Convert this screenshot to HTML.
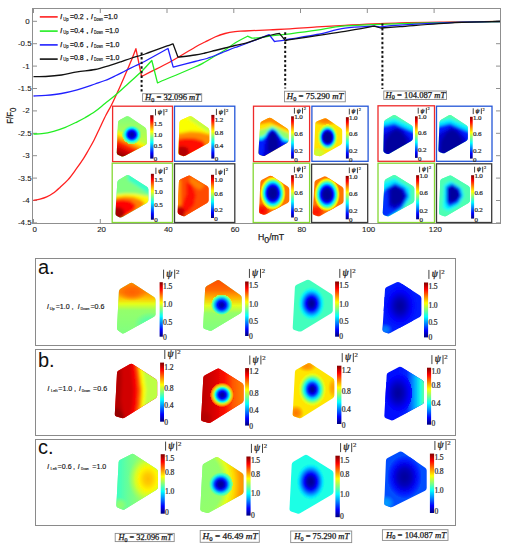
<!DOCTYPE html><html><head><meta charset="utf-8"><style>
html,body{margin:0;padding:0;background:#fff;width:508px;height:550px;overflow:hidden}
svg{display:block}
text{font-family:"Liberation Sans",sans-serif;fill:#111}
.tk{font-size:7.9px;fill:#222;stroke:#222;stroke-width:0.12px}
.al{font-size:9.3px;fill:#222;stroke:#222;stroke-width:0.25px}
.lg{font-size:7.8px;stroke:#111;stroke-width:0.25px}
.lgl{font-size:7.6px;font-style:italic;stroke:#111;stroke-width:0.25px}
.lgs{font-size:4.6px;stroke:#111;stroke-width:0.15px}
.pll{font-size:7.4px;font-style:italic;stroke:#111;stroke-width:0.15px}
.pls{font-size:4.4px;stroke:#111;stroke-width:0.15px}
.plt{font-size:7.4px;stroke:#111;stroke-width:0.15px}
.li{font-family:"Liberation Serif",serif;font-style:italic}
.sub{font-size:6px}
.sub2{font-size:5px}
.pt{font-size:8.2px;letter-spacing:-0.2px}
.pl{font-size:20px}
.cb{font-family:"Liberation Serif",serif;fill:#2a2a2a;stroke:#2a2a2a;stroke-width:0.22px;letter-spacing:-0.15px}
.psi text{font-family:"Liberation Serif",serif;fill:#2a2a2a;stroke:#2a2a2a;stroke-width:0.2px}
.psi rect{fill:#3a3a3a}
.psi .ps{font-size:0.97em;font-style:italic;stroke-width:0.35px}
.hb{font-family:"Liberation Serif",serif;fill:#1a1a1a;stroke:#1a1a1a;stroke-width:0.25px}
</style></head><body><svg width="508" height="550" viewBox="0 0 508 550"><defs><linearGradient id="cbar" x1="0" y1="0" x2="0" y2="1"><stop offset="0.000" stop-color="#800000"/><stop offset="0.062" stop-color="#bf0000"/><stop offset="0.125" stop-color="#ff0000"/><stop offset="0.188" stop-color="#ff4000"/><stop offset="0.250" stop-color="#ff8000"/><stop offset="0.312" stop-color="#ffbf00"/><stop offset="0.375" stop-color="#ffff00"/><stop offset="0.438" stop-color="#bfff40"/><stop offset="0.500" stop-color="#80ff80"/><stop offset="0.562" stop-color="#40ffbf"/><stop offset="0.625" stop-color="#00ffff"/><stop offset="0.688" stop-color="#00bfff"/><stop offset="0.750" stop-color="#0080ff"/><stop offset="0.812" stop-color="#0040ff"/><stop offset="0.875" stop-color="#0000ff"/><stop offset="0.938" stop-color="#0000bf"/><stop offset="1.000" stop-color="#000080"/></linearGradient><filter id="soft" x="-10%" y="-10%" width="120%" height="120%"><feGaussianBlur stdDeviation="0.45"/></filter><linearGradient id="l1" gradientUnits="userSpaceOnUse" x1="0.0" y1="116.0" x2="0.0" y2="140.0"><stop offset="0.000" stop-color="#80ff80" stop-opacity="1.00"/><stop offset="1.000" stop-color="#bdff42" stop-opacity="1.00"/></linearGradient><linearGradient id="l2" gradientUnits="userSpaceOnUse" x1="133.0" y1="136.0" x2="123.0" y2="157.0"><stop offset="0.000" stop-color="#bdff42" stop-opacity="0.00"/><stop offset="0.080" stop-color="#d1ff2e" stop-opacity="1.00"/><stop offset="0.200" stop-color="#fff000" stop-opacity="1.00"/><stop offset="0.350" stop-color="#ff9e00" stop-opacity="1.00"/><stop offset="0.550" stop-color="#ff2400" stop-opacity="1.00"/><stop offset="0.750" stop-color="#d10000" stop-opacity="1.00"/><stop offset="1.000" stop-color="#940000" stop-opacity="1.00"/></linearGradient><radialGradient id="r3" gradientUnits="userSpaceOnUse" cx="0" cy="0" r="1" gradientTransform="translate(131.8 134.6) rotate(0.0) scale(9.50 9.50)"><stop offset="0.000" stop-color="#00009e" stop-opacity="1.00"/><stop offset="0.220" stop-color="#0000bd" stop-opacity="1.00"/><stop offset="0.400" stop-color="#0005ff" stop-opacity="1.00"/><stop offset="0.560" stop-color="#0080ff" stop-opacity="1.00"/><stop offset="0.700" stop-color="#00faff" stop-opacity="1.00"/><stop offset="0.850" stop-color="#61ff9e" stop-opacity="1.00"/><stop offset="1.000" stop-color="#9eff61" stop-opacity="1.00"/><stop offset="1.000" stop-color="#9eff61" stop-opacity="0.00"/></radialGradient><clipPath id="c4"><path d="M118.03,122.50 Q118.10,120.70 119.70,119.88 L126.10,116.62 Q127.70,115.80 129.20,116.80 L144.80,127.20 Q146.30,128.20 146.38,130.00 L146.92,142.30 Q147.00,144.10 145.41,144.94 L124.49,155.96 Q122.90,156.80 121.22,156.15 L118.38,155.05 Q116.70,154.40 116.77,152.60 Z"/></clipPath><filter id="f5" x="-30%" y="-30%" width="160%" height="160%"><feGaussianBlur stdDeviation="1.50"/></filter><clipPath id="c6"><path d="M179.53,122.50 Q179.60,120.70 181.25,119.97 L189.05,116.53 Q190.70,115.80 192.17,116.84 L207.83,127.86 Q209.30,128.90 209.30,130.70 L209.30,140.90 Q209.30,142.70 207.72,143.56 L185.38,155.64 Q183.80,156.50 182.12,155.86 L179.98,155.04 Q178.30,154.40 178.37,152.60 Z"/></clipPath><filter id="f7" x="-30%" y="-30%" width="160%" height="160%"><feGaussianBlur stdDeviation="1.40"/></filter><clipPath id="c8"><path d="M117.29,182.50 Q117.40,180.70 118.94,179.77 L126.16,175.43 Q127.70,174.50 129.22,175.46 L146.88,186.64 Q148.40,187.60 148.40,189.40 L148.40,200.30 Q148.40,202.10 146.84,203.00 L122.36,217.10 Q120.80,218.00 119.20,217.18 L116.90,216.02 Q115.30,215.20 115.41,213.40 Z"/></clipPath><filter id="f9" x="-30%" y="-30%" width="160%" height="160%"><feGaussianBlur stdDeviation="1.80"/></filter><clipPath id="c10"><path d="M178.93,181.80 Q179.00,180.00 180.63,179.24 L187.67,175.96 Q189.30,175.20 190.84,176.13 L207.06,185.97 Q208.60,186.90 208.60,188.70 L208.60,200.30 Q208.60,202.10 207.05,203.01 L185.35,215.69 Q183.80,216.60 182.16,215.86 L179.24,214.54 Q177.60,213.80 177.67,212.00 Z"/></clipPath><filter id="f11" x="-30%" y="-30%" width="160%" height="160%"><feGaussianBlur stdDeviation="1.20"/></filter><clipPath id="c12"><path d="M260.28,123.80 Q260.40,122.00 262.01,121.20 L268.39,118.00 Q270.00,117.20 271.50,118.20 L287.10,128.60 Q288.60,129.60 288.60,131.40 L288.60,140.20 Q288.60,142.00 287.05,142.91 L265.35,155.59 Q263.80,156.50 262.12,155.86 L259.98,155.04 Q258.30,154.40 258.42,152.60 Z"/></clipPath><radialGradient id="r13" gradientUnits="userSpaceOnUse" cx="0" cy="0" r="1" gradientTransform="translate(326.0 120.0) rotate(0.0) scale(15.00 6.00)"><stop offset="0.000" stop-color="#ff7500" stop-opacity="1.00"/><stop offset="0.450" stop-color="#ff7500" stop-opacity="0.75"/><stop offset="1.000" stop-color="#ff7500" stop-opacity="0.00"/></radialGradient><radialGradient id="r14" gradientUnits="userSpaceOnUse" cx="0" cy="0" r="1" gradientTransform="translate(318.0 153.0) rotate(0.0) scale(9.00 6.00)"><stop offset="0.000" stop-color="#c7ff38" stop-opacity="1.00"/><stop offset="0.450" stop-color="#c7ff38" stop-opacity="0.75"/><stop offset="1.000" stop-color="#c7ff38" stop-opacity="0.00"/></radialGradient><radialGradient id="r15" gradientUnits="userSpaceOnUse" cx="0" cy="0" r="1" gradientTransform="translate(327.6 137.3) rotate(0.0) scale(10.00 13.00)"><stop offset="0.000" stop-color="#000094" stop-opacity="1.00"/><stop offset="0.330" stop-color="#00009e" stop-opacity="1.00"/><stop offset="0.430" stop-color="#0000c7" stop-opacity="1.00"/><stop offset="0.530" stop-color="#0024ff" stop-opacity="1.00"/><stop offset="0.640" stop-color="#00b2ff" stop-opacity="1.00"/><stop offset="0.760" stop-color="#4dffb2" stop-opacity="1.00"/><stop offset="0.880" stop-color="#c7ff38" stop-opacity="1.00"/><stop offset="1.000" stop-color="#fff000" stop-opacity="1.00"/><stop offset="1.000" stop-color="#fff000" stop-opacity="0.00"/></radialGradient><clipPath id="c16"><path d="M315.23,123.80 Q315.30,122.00 316.97,121.34 L324.03,118.56 Q325.70,117.90 327.20,118.90 L340.70,127.90 Q342.20,128.90 342.20,130.70 L342.20,142.30 Q342.20,144.10 340.63,144.98 L321.77,155.62 Q320.20,156.50 318.44,156.10 L315.76,155.50 Q314.00,155.10 314.07,153.30 Z"/></clipPath><radialGradient id="r17" gradientUnits="userSpaceOnUse" cx="0" cy="0" r="1" gradientTransform="translate(262.0 211.0) rotate(0.0) scale(9.00 8.00)"><stop offset="0.000" stop-color="#fa0000" stop-opacity="1.00"/><stop offset="0.450" stop-color="#fa0000" stop-opacity="0.75"/><stop offset="1.000" stop-color="#fa0000" stop-opacity="0.00"/></radialGradient><radialGradient id="r18" gradientUnits="userSpaceOnUse" cx="0" cy="0" r="1" gradientTransform="translate(272.8 193.3) rotate(0.0) scale(13.00 17.00)"><stop offset="0.000" stop-color="#000094" stop-opacity="1.00"/><stop offset="0.250" stop-color="#00009e" stop-opacity="1.00"/><stop offset="0.350" stop-color="#0000bd" stop-opacity="1.00"/><stop offset="0.450" stop-color="#0005ff" stop-opacity="1.00"/><stop offset="0.550" stop-color="#0075ff" stop-opacity="1.00"/><stop offset="0.650" stop-color="#00f0ff" stop-opacity="1.00"/><stop offset="0.750" stop-color="#6bff94" stop-opacity="1.00"/><stop offset="0.870" stop-color="#faff05" stop-opacity="1.00"/><stop offset="1.000" stop-color="#ff7500" stop-opacity="1.00"/><stop offset="1.000" stop-color="#ff7500" stop-opacity="0.00"/></radialGradient><clipPath id="c19"><path d="M260.32,182.50 Q260.40,180.70 261.99,179.85 L269.11,176.05 Q270.70,175.20 272.20,176.20 L287.80,186.60 Q289.30,187.60 289.30,189.40 L289.30,200.30 Q289.30,202.10 287.71,202.94 L266.09,214.36 Q264.50,215.20 262.82,214.56 L260.68,213.74 Q259.00,213.10 259.08,211.30 Z"/></clipPath><radialGradient id="r20" gradientUnits="userSpaceOnUse" cx="0" cy="0" r="1" gradientTransform="translate(316.0 212.0) rotate(0.0) scale(9.00 8.00)"><stop offset="0.000" stop-color="#ff0f00" stop-opacity="1.00"/><stop offset="0.450" stop-color="#ff0f00" stop-opacity="0.75"/><stop offset="1.000" stop-color="#ff0f00" stop-opacity="0.00"/></radialGradient><radialGradient id="r21" gradientUnits="userSpaceOnUse" cx="0" cy="0" r="1" gradientTransform="translate(327.0 194.5) rotate(0.0) scale(13.00 17.00)"><stop offset="0.000" stop-color="#000094" stop-opacity="1.00"/><stop offset="0.250" stop-color="#00009e" stop-opacity="1.00"/><stop offset="0.350" stop-color="#0000bd" stop-opacity="1.00"/><stop offset="0.450" stop-color="#0005ff" stop-opacity="1.00"/><stop offset="0.550" stop-color="#0075ff" stop-opacity="1.00"/><stop offset="0.650" stop-color="#00f0ff" stop-opacity="1.00"/><stop offset="0.750" stop-color="#6bff94" stop-opacity="1.00"/><stop offset="0.870" stop-color="#faff05" stop-opacity="1.00"/><stop offset="1.000" stop-color="#ff7500" stop-opacity="1.00"/><stop offset="1.000" stop-color="#ff7500" stop-opacity="0.00"/></radialGradient><clipPath id="c22"><path d="M314.49,182.50 Q314.60,180.70 316.23,179.95 L323.37,176.65 Q325.00,175.90 326.52,176.86 L342.08,186.64 Q343.60,187.60 343.60,189.40 L343.60,201.00 Q343.60,202.80 342.03,203.68 L320.37,215.72 Q318.80,216.60 317.10,216.02 L314.30,215.08 Q312.60,214.50 312.71,212.70 Z"/></clipPath><clipPath id="c23"><path d="M383.96,122.50 Q384.00,120.70 385.54,119.77 L392.76,115.43 Q394.30,114.50 395.82,115.46 L411.38,125.24 Q412.90,126.20 412.90,128.00 L412.90,138.20 Q412.90,140.00 411.34,140.90 L389.66,153.50 Q388.10,154.40 386.44,153.71 L384.96,153.09 Q383.30,152.40 383.34,150.60 Z"/></clipPath><clipPath id="c24"><path d="M439.52,122.50 Q439.60,120.70 441.15,119.78 L448.45,115.42 Q450.00,114.50 451.51,115.48 L466.39,125.22 Q467.90,126.20 467.90,128.00 L467.90,138.20 Q467.90,140.00 466.34,140.89 L445.36,152.81 Q443.80,153.70 442.11,153.08 L439.99,152.32 Q438.30,151.70 438.38,149.90 Z"/></clipPath><clipPath id="c25"><path d="M384.50,181.80 Q384.60,180.00 386.17,179.11 L392.73,175.39 Q394.30,174.50 395.83,175.45 L412.77,185.95 Q414.30,186.90 414.30,188.70 L414.30,200.30 Q414.30,202.10 412.73,202.97 L389.67,215.73 Q388.10,216.60 386.42,215.96 L384.28,215.14 Q382.60,214.50 382.70,212.70 Z"/></clipPath><clipPath id="c26"><path d="M440.23,181.20 Q440.30,179.40 441.97,178.73 L449.03,175.87 Q450.70,175.20 452.24,176.13 L468.46,185.97 Q470.00,186.90 470.00,188.70 L470.00,200.30 Q470.00,202.10 468.45,203.01 L446.75,215.69 Q445.20,216.60 443.50,216.02 L440.70,215.08 Q439.00,214.50 439.07,212.70 Z"/></clipPath><linearGradient id="l27" gradientUnits="userSpaceOnUse" x1="0.0" y1="282.0" x2="0.0" y2="334.0"><stop offset="0.000" stop-color="#ff8a00" stop-opacity="1.00"/><stop offset="0.200" stop-color="#ff8a00" stop-opacity="1.00"/><stop offset="0.320" stop-color="#ffc700" stop-opacity="1.00"/><stop offset="0.420" stop-color="#e5ff1a" stop-opacity="1.00"/><stop offset="0.550" stop-color="#94ff6b" stop-opacity="1.00"/><stop offset="1.000" stop-color="#80ff80" stop-opacity="1.00"/></linearGradient><radialGradient id="r28" gradientUnits="userSpaceOnUse" cx="0" cy="0" r="1" gradientTransform="translate(132.0 292.0) rotate(0.0) scale(15.00 9.00)"><stop offset="0.000" stop-color="#ff6100" stop-opacity="1.00"/><stop offset="0.450" stop-color="#ff6100" stop-opacity="0.75"/><stop offset="1.000" stop-color="#ff6100" stop-opacity="0.00"/></radialGradient><radialGradient id="r29" gradientUnits="userSpaceOnUse" cx="0" cy="0" r="1" gradientTransform="translate(150.0 324.0) rotate(0.0) scale(16.00 12.00)"><stop offset="0.000" stop-color="#4dffb2" stop-opacity="1.00"/><stop offset="0.450" stop-color="#4dffb2" stop-opacity="0.75"/><stop offset="1.000" stop-color="#4dffb2" stop-opacity="0.00"/></radialGradient><clipPath id="c30"><path d="M118.91,291.60 Q119.00,289.80 120.53,288.86 L129.87,283.14 Q131.40,282.20 132.90,283.19 L154.00,297.11 Q155.50,298.10 155.50,299.90 L155.50,314.20 Q155.50,316.00 153.92,316.87 L124.68,333.03 Q123.10,333.90 121.60,332.91 L118.40,330.79 Q116.90,329.80 116.99,328.00 Z"/></clipPath><linearGradient id="l31" gradientUnits="userSpaceOnUse" x1="0.0" y1="280.0" x2="0.0" y2="331.0"><stop offset="0.000" stop-color="#ff4c00" stop-opacity="1.00"/><stop offset="0.200" stop-color="#ff6b00" stop-opacity="1.00"/><stop offset="0.350" stop-color="#ffb300" stop-opacity="1.00"/><stop offset="0.500" stop-color="#e5ff1a" stop-opacity="1.00"/><stop offset="0.650" stop-color="#94ff6b" stop-opacity="1.00"/><stop offset="1.000" stop-color="#80ff80" stop-opacity="1.00"/></linearGradient><radialGradient id="r32" gradientUnits="userSpaceOnUse" cx="0" cy="0" r="1" gradientTransform="translate(221.7 305.0) rotate(0.0) scale(10.50 10.50)"><stop offset="0.000" stop-color="#00009e" stop-opacity="1.00"/><stop offset="0.200" stop-color="#0000bd" stop-opacity="1.00"/><stop offset="0.400" stop-color="#000fff" stop-opacity="1.00"/><stop offset="0.600" stop-color="#0094ff" stop-opacity="1.00"/><stop offset="0.800" stop-color="#2effd1" stop-opacity="1.00"/><stop offset="1.000" stop-color="#bdff42" stop-opacity="1.00"/><stop offset="1.000" stop-color="#bdff42" stop-opacity="0.00"/></radialGradient><clipPath id="c33"><path d="M205.11,288.80 Q205.20,287.00 206.76,286.10 L216.64,280.40 Q218.20,279.50 219.67,280.53 L240.23,294.97 Q241.70,296.00 241.70,297.80 L241.70,310.70 Q241.70,312.50 240.16,313.43 L212.24,330.17 Q210.70,331.10 209.00,330.50 L204.80,329.00 Q203.10,328.40 203.19,326.60 Z"/></clipPath><radialGradient id="r34" gradientUnits="userSpaceOnUse" cx="0" cy="0" r="1" gradientTransform="translate(311.5 303.6) rotate(0.0) scale(13.50 17.00)"><stop offset="0.000" stop-color="#000094" stop-opacity="1.00"/><stop offset="0.125" stop-color="#00009e" stop-opacity="1.00"/><stop offset="0.250" stop-color="#0000bd" stop-opacity="1.00"/><stop offset="0.375" stop-color="#0000fa" stop-opacity="1.00"/><stop offset="0.500" stop-color="#004dff" stop-opacity="1.00"/><stop offset="0.625" stop-color="#009eff" stop-opacity="1.00"/><stop offset="0.750" stop-color="#00e5ff" stop-opacity="1.00"/><stop offset="0.875" stop-color="#24ffdb" stop-opacity="1.00"/><stop offset="1.000" stop-color="#42ffbd" stop-opacity="1.00"/><stop offset="1.000" stop-color="#42ffbd" stop-opacity="0.00"/></radialGradient><clipPath id="c35"><path d="M294.90,287.30 Q295.00,285.50 296.63,284.73 L306.67,279.97 Q308.30,279.20 309.82,280.17 L331.28,293.93 Q332.80,294.90 332.80,296.70 L332.80,310.40 Q332.80,312.20 331.26,313.14 L302.04,330.96 Q300.50,331.90 298.77,331.40 L294.33,330.10 Q292.60,329.60 292.70,327.80 Z"/></clipPath><radialGradient id="r36" gradientUnits="userSpaceOnUse" cx="0" cy="0" r="1" gradientTransform="translate(400.0 306.0) rotate(0.0) scale(17.00 22.00)"><stop offset="0.000" stop-color="#00009e" stop-opacity="1.00"/><stop offset="0.167" stop-color="#0000a8" stop-opacity="1.00"/><stop offset="0.333" stop-color="#0000bd" stop-opacity="1.00"/><stop offset="0.500" stop-color="#0000db" stop-opacity="1.00"/><stop offset="0.667" stop-color="#0000fa" stop-opacity="1.00"/><stop offset="0.833" stop-color="#000fff" stop-opacity="1.00"/><stop offset="1.000" stop-color="#001aff" stop-opacity="1.00"/><stop offset="1.000" stop-color="#001aff" stop-opacity="0.00"/></radialGradient><radialGradient id="r37" gradientUnits="userSpaceOnUse" cx="0" cy="0" r="1" gradientTransform="translate(385.0 330.0) rotate(0.0) scale(8.00 7.00)"><stop offset="0.000" stop-color="#0080ff" stop-opacity="1.00"/><stop offset="0.450" stop-color="#0080ff" stop-opacity="0.75"/><stop offset="1.000" stop-color="#0080ff" stop-opacity="0.00"/></radialGradient><clipPath id="c38"><path d="M384.99,289.60 Q385.10,287.80 386.73,287.03 L396.67,282.37 Q398.30,281.60 399.81,282.58 L419.89,295.62 Q421.40,296.60 421.40,298.40 L421.40,314.30 Q421.40,316.10 419.82,316.95 L390.18,332.95 Q388.60,333.80 386.94,333.10 L384.06,331.90 Q382.40,331.20 382.51,329.40 Z"/></clipPath><clipPath id="c39"><path d="M117.00,373.10 Q117.10,371.30 118.67,370.42 L129.73,364.28 Q131.30,363.40 132.82,364.37 L155.68,378.93 Q157.20,379.90 157.20,381.70 L157.20,395.40 Q157.20,397.20 155.68,398.16 L124.92,417.54 Q123.40,418.50 121.66,418.02 L116.44,416.58 Q114.70,416.10 114.80,414.30 Z"/></clipPath><linearGradient id="l40" gradientUnits="userSpaceOnUse" x1="203.0" y1="0.0" x2="243.0" y2="0.0"><stop offset="0.000" stop-color="#bd0000" stop-opacity="1.00"/><stop offset="0.300" stop-color="#db0000" stop-opacity="1.00"/><stop offset="0.550" stop-color="#ff0f00" stop-opacity="1.00"/><stop offset="0.750" stop-color="#ff5700" stop-opacity="1.00"/><stop offset="1.000" stop-color="#ff8000" stop-opacity="1.00"/></linearGradient><radialGradient id="r41" gradientUnits="userSpaceOnUse" cx="0" cy="0" r="1" gradientTransform="translate(204.0 418.0) rotate(0.0) scale(9.00 8.00)"><stop offset="0.000" stop-color="#b30000" stop-opacity="1.00"/><stop offset="0.450" stop-color="#b30000" stop-opacity="0.75"/><stop offset="1.000" stop-color="#b30000" stop-opacity="0.00"/></radialGradient><radialGradient id="r42" gradientUnits="userSpaceOnUse" cx="0" cy="0" r="1" gradientTransform="translate(222.3 394.9) rotate(0.0) scale(12.00 12.00)"><stop offset="0.000" stop-color="#00009e" stop-opacity="1.00"/><stop offset="0.150" stop-color="#0000b2" stop-opacity="1.00"/><stop offset="0.300" stop-color="#0000fa" stop-opacity="1.00"/><stop offset="0.450" stop-color="#0080ff" stop-opacity="1.00"/><stop offset="0.580" stop-color="#05fffa" stop-opacity="1.00"/><stop offset="0.700" stop-color="#b3ff4c" stop-opacity="1.00"/><stop offset="0.850" stop-color="#ffb300" stop-opacity="1.00"/><stop offset="1.000" stop-color="#ff2e00" stop-opacity="1.00"/><stop offset="1.000" stop-color="#ff2e00" stop-opacity="0.00"/></radialGradient><clipPath id="c43"><path d="M203.30,377.80 Q203.40,376.00 204.99,375.16 L216.71,368.94 Q218.30,368.10 219.83,369.06 L241.97,382.94 Q243.50,383.90 243.50,385.70 L243.50,400.20 Q243.50,402.00 241.98,402.96 L211.22,422.24 Q209.70,423.20 207.96,422.74 L202.74,421.36 Q201.00,420.90 201.10,419.10 Z"/></clipPath><radialGradient id="r44" gradientUnits="userSpaceOnUse" cx="0" cy="0" r="1" gradientTransform="translate(307.0 366.0) rotate(0.0) scale(10.00 6.00)"><stop offset="0.000" stop-color="#ff8a00" stop-opacity="1.00"/><stop offset="0.450" stop-color="#ff8a00" stop-opacity="0.75"/><stop offset="1.000" stop-color="#ff8a00" stop-opacity="0.00"/></radialGradient><radialGradient id="r45" gradientUnits="userSpaceOnUse" cx="0" cy="0" r="1" gradientTransform="translate(333.0 388.0) rotate(0.0) scale(5.00 10.00)"><stop offset="0.000" stop-color="#ff9e00" stop-opacity="1.00"/><stop offset="0.450" stop-color="#ff9e00" stop-opacity="0.75"/><stop offset="1.000" stop-color="#ff9e00" stop-opacity="0.00"/></radialGradient><radialGradient id="r46" gradientUnits="userSpaceOnUse" cx="0" cy="0" r="1" gradientTransform="translate(296.0 413.0) rotate(0.0) scale(8.00 8.00)"><stop offset="0.000" stop-color="#ff7500" stop-opacity="1.00"/><stop offset="0.450" stop-color="#ff7500" stop-opacity="0.75"/><stop offset="1.000" stop-color="#ff7500" stop-opacity="0.00"/></radialGradient><radialGradient id="r47" gradientUnits="userSpaceOnUse" cx="0" cy="0" r="1" gradientTransform="translate(312.3 389.4) rotate(0.0) scale(14.00 17.00)"><stop offset="0.000" stop-color="#000094" stop-opacity="1.00"/><stop offset="0.125" stop-color="#0000a8" stop-opacity="1.00"/><stop offset="0.250" stop-color="#0000e6" stop-opacity="1.00"/><stop offset="0.375" stop-color="#004dff" stop-opacity="1.00"/><stop offset="0.500" stop-color="#00c7ff" stop-opacity="1.00"/><stop offset="0.625" stop-color="#2effd1" stop-opacity="1.00"/><stop offset="0.750" stop-color="#94ff6b" stop-opacity="1.00"/><stop offset="0.875" stop-color="#e5ff1a" stop-opacity="1.00"/><stop offset="1.000" stop-color="#ffe500" stop-opacity="1.00"/><stop offset="1.000" stop-color="#ffe500" stop-opacity="0.00"/></radialGradient><clipPath id="c48"><path d="M294.91,372.30 Q295.00,370.50 296.57,369.62 L307.53,363.48 Q309.10,362.60 310.61,363.59 L332.79,378.11 Q334.30,379.10 334.30,380.90 L334.30,395.40 Q334.30,397.20 332.78,398.16 L302.02,417.54 Q300.50,418.50 298.78,417.98 L294.32,416.62 Q292.60,416.10 292.69,414.30 Z"/></clipPath><linearGradient id="l49" gradientUnits="userSpaceOnUse" x1="395.0" y1="0.0" x2="424.0" y2="0.0"><stop offset="0.000" stop-color="#000fff" stop-opacity="0.00"/><stop offset="0.400" stop-color="#0024ff" stop-opacity="1.00"/><stop offset="0.700" stop-color="#00b2ff" stop-opacity="1.00"/><stop offset="0.880" stop-color="#1affe5" stop-opacity="1.00"/><stop offset="1.000" stop-color="#61ff9e" stop-opacity="1.00"/></linearGradient><radialGradient id="r50" gradientUnits="userSpaceOnUse" cx="0" cy="0" r="1" gradientTransform="translate(398.0 393.0) rotate(0.0) scale(14.00 20.00)"><stop offset="0.000" stop-color="#00009e" stop-opacity="1.00"/><stop offset="0.200" stop-color="#0000a8" stop-opacity="1.00"/><stop offset="0.400" stop-color="#0000bd" stop-opacity="1.00"/><stop offset="0.600" stop-color="#0000db" stop-opacity="1.00"/><stop offset="0.800" stop-color="#0000fa" stop-opacity="1.00"/><stop offset="1.000" stop-color="#000fff" stop-opacity="1.00"/><stop offset="1.000" stop-color="#000fff" stop-opacity="0.00"/></radialGradient><clipPath id="c51"><path d="M386.69,375.10 Q386.80,373.30 388.39,372.46 L398.51,367.14 Q400.10,366.30 401.62,367.26 L422.48,380.34 Q424.00,381.30 424.00,383.10 L424.00,401.70 Q424.00,403.50 422.42,404.36 L393.68,419.94 Q392.10,420.80 390.43,420.12 L385.87,418.28 Q384.20,417.60 384.31,415.80 Z"/></clipPath><linearGradient id="l52" gradientUnits="userSpaceOnUse" x1="116.0" y1="0.0" x2="158.0" y2="0.0"><stop offset="0.000" stop-color="#38ffc7" stop-opacity="1.00"/><stop offset="0.300" stop-color="#6bff94" stop-opacity="1.00"/><stop offset="0.600" stop-color="#94ff6b" stop-opacity="1.00"/><stop offset="1.000" stop-color="#b3ff4c" stop-opacity="1.00"/></linearGradient><radialGradient id="r53" gradientUnits="userSpaceOnUse" cx="0" cy="0" r="1" gradientTransform="translate(119.0 505.0) rotate(0.0) scale(9.00 8.00)"><stop offset="0.000" stop-color="#b3ff4c" stop-opacity="0.70"/><stop offset="0.450" stop-color="#b3ff4c" stop-opacity="0.52"/><stop offset="1.000" stop-color="#b3ff4c" stop-opacity="0.00"/></radialGradient><radialGradient id="r54" gradientUnits="userSpaceOnUse" cx="0" cy="0" r="1" gradientTransform="translate(148.0 479.0) rotate(0.0) scale(20.00 25.00)"><stop offset="0.000" stop-color="#ffbd00" stop-opacity="1.00"/><stop offset="0.200" stop-color="#ffcc00" stop-opacity="1.00"/><stop offset="0.450" stop-color="#fff500" stop-opacity="1.00"/><stop offset="0.650" stop-color="#dbff24" stop-opacity="0.90"/><stop offset="0.850" stop-color="#b3ff4c" stop-opacity="0.50"/><stop offset="1.000" stop-color="#9eff61" stop-opacity="0.00"/></radialGradient><clipPath id="c55"><path d="M118.61,462.30 Q118.70,460.50 120.31,459.69 L131.19,454.21 Q132.80,453.40 134.31,454.39 L156.49,468.91 Q158.00,469.90 158.00,471.70 L158.00,487.00 Q158.00,488.80 156.47,489.74 L124.93,509.16 Q123.40,510.10 121.76,509.36 L117.94,507.64 Q116.30,506.90 116.39,505.10 Z"/></clipPath><radialGradient id="r56" gradientUnits="userSpaceOnUse" cx="0" cy="0" r="1" gradientTransform="translate(195.0 484.0) rotate(0.0) scale(50.00 60.00)"><stop offset="0.000" stop-color="#8aff75" stop-opacity="1.00"/><stop offset="0.550" stop-color="#94ff6b" stop-opacity="1.00"/><stop offset="0.680" stop-color="#e5ff1a" stop-opacity="1.00"/><stop offset="0.780" stop-color="#ffdb00" stop-opacity="1.00"/><stop offset="0.900" stop-color="#ff9e00" stop-opacity="1.00"/><stop offset="1.000" stop-color="#ff8a00" stop-opacity="1.00"/></radialGradient><radialGradient id="r57" gradientUnits="userSpaceOnUse" cx="0" cy="0" r="1" gradientTransform="translate(220.7 484.3) rotate(0.0) scale(12.00 12.00)"><stop offset="0.000" stop-color="#000094" stop-opacity="1.00"/><stop offset="0.200" stop-color="#0000a8" stop-opacity="1.00"/><stop offset="0.350" stop-color="#0000db" stop-opacity="1.00"/><stop offset="0.500" stop-color="#0038ff" stop-opacity="1.00"/><stop offset="0.650" stop-color="#00b2ff" stop-opacity="1.00"/><stop offset="0.800" stop-color="#2effd1" stop-opacity="1.00"/><stop offset="1.000" stop-color="#94ff6b" stop-opacity="1.00"/><stop offset="1.000" stop-color="#94ff6b" stop-opacity="0.00"/></radialGradient><clipPath id="c58"><path d="M202.51,466.20 Q202.60,464.40 204.17,463.52 L215.23,457.38 Q216.80,456.50 218.31,457.48 L241.99,472.92 Q243.50,473.90 243.50,475.70 L243.50,491.70 Q243.50,493.50 241.93,494.38 L209.67,512.32 Q208.10,513.20 206.37,512.70 L201.93,511.40 Q200.20,510.90 200.29,509.10 Z"/></clipPath><radialGradient id="r59" gradientUnits="userSpaceOnUse" cx="0" cy="0" r="1" gradientTransform="translate(310.7 481.7) rotate(0.0) scale(14.00 18.00)"><stop offset="0.000" stop-color="#000094" stop-opacity="1.00"/><stop offset="0.143" stop-color="#00009e" stop-opacity="1.00"/><stop offset="0.286" stop-color="#0000bd" stop-opacity="1.00"/><stop offset="0.429" stop-color="#0000fa" stop-opacity="1.00"/><stop offset="0.571" stop-color="#004dff" stop-opacity="1.00"/><stop offset="0.714" stop-color="#009eff" stop-opacity="1.00"/><stop offset="0.857" stop-color="#00e5ff" stop-opacity="1.00"/><stop offset="1.000" stop-color="#1affe5" stop-opacity="1.00"/><stop offset="1.000" stop-color="#1affe5" stop-opacity="0.00"/></radialGradient><clipPath id="c60"><path d="M291.71,464.60 Q291.80,462.80 293.34,461.87 L304.46,455.13 Q306.00,454.20 307.52,455.16 L331.98,470.54 Q333.50,471.50 333.50,473.30 L333.50,491.70 Q333.50,493.50 331.95,494.42 L300.45,513.08 Q298.90,514.00 297.19,513.44 L291.11,511.46 Q289.40,510.90 289.49,509.10 Z"/></clipPath><radialGradient id="r61" gradientUnits="userSpaceOnUse" cx="0" cy="0" r="1" gradientTransform="translate(404.5 477.0) rotate(0.0) scale(17.00 21.00)"><stop offset="0.000" stop-color="#00009e" stop-opacity="1.00"/><stop offset="0.200" stop-color="#0000a8" stop-opacity="1.00"/><stop offset="0.400" stop-color="#0000bd" stop-opacity="1.00"/><stop offset="0.600" stop-color="#0000e6" stop-opacity="1.00"/><stop offset="0.800" stop-color="#001aff" stop-opacity="1.00"/><stop offset="1.000" stop-color="#0042ff" stop-opacity="1.00"/><stop offset="1.000" stop-color="#0042ff" stop-opacity="0.00"/></radialGradient><radialGradient id="r62" gradientUnits="userSpaceOnUse" cx="0" cy="0" r="1" gradientTransform="translate(386.0 503.0) rotate(0.0) scale(9.00 8.00)"><stop offset="0.000" stop-color="#009eff" stop-opacity="1.00"/><stop offset="0.450" stop-color="#009eff" stop-opacity="0.75"/><stop offset="1.000" stop-color="#009eff" stop-opacity="0.00"/></radialGradient><clipPath id="c63"><path d="M385.93,460.70 Q386.00,458.90 387.59,458.06 L399.41,451.84 Q401.00,451.00 402.48,452.02 L425.22,467.68 Q426.70,468.70 426.70,470.50 L426.70,488.10 Q426.70,489.90 425.09,490.70 L392.91,506.80 Q391.30,507.60 389.61,506.98 L385.89,505.62 Q384.20,505.00 384.27,503.20 Z"/></clipPath></defs><rect x="32.5" y="8.5" width="468.0" height="215.0" fill="none" stroke="#8f8f8f" stroke-width="1"/>
<line x1="32.5" y1="21.3" x2="37.0" y2="21.3" stroke="#8f8f8f" stroke-width="1"/>
<line x1="500.5" y1="21.3" x2="496.0" y2="21.3" stroke="#8f8f8f" stroke-width="1"/>
<text x="29.6" y="23.8" class="tk" text-anchor="end">0</text>
<line x1="32.5" y1="43.7" x2="37.0" y2="43.7" stroke="#8f8f8f" stroke-width="1"/>
<line x1="500.5" y1="43.7" x2="496.0" y2="43.7" stroke="#8f8f8f" stroke-width="1"/>
<text x="31.6" y="46.2" class="tk" text-anchor="end">-0.5</text>
<line x1="32.5" y1="66.1" x2="37.0" y2="66.1" stroke="#8f8f8f" stroke-width="1"/>
<line x1="500.5" y1="66.1" x2="496.0" y2="66.1" stroke="#8f8f8f" stroke-width="1"/>
<text x="29.6" y="68.6" class="tk" text-anchor="end">-1</text>
<line x1="32.5" y1="88.5" x2="37.0" y2="88.5" stroke="#8f8f8f" stroke-width="1"/>
<line x1="500.5" y1="88.5" x2="496.0" y2="88.5" stroke="#8f8f8f" stroke-width="1"/>
<text x="31.6" y="91.0" class="tk" text-anchor="end">-1.5</text>
<line x1="32.5" y1="110.9" x2="37.0" y2="110.9" stroke="#8f8f8f" stroke-width="1"/>
<line x1="500.5" y1="110.9" x2="496.0" y2="110.9" stroke="#8f8f8f" stroke-width="1"/>
<text x="29.6" y="113.4" class="tk" text-anchor="end">-2</text>
<line x1="32.5" y1="133.3" x2="37.0" y2="133.3" stroke="#8f8f8f" stroke-width="1"/>
<line x1="500.5" y1="133.3" x2="496.0" y2="133.3" stroke="#8f8f8f" stroke-width="1"/>
<text x="31.6" y="135.8" class="tk" text-anchor="end">-2.5</text>
<line x1="32.5" y1="155.7" x2="37.0" y2="155.7" stroke="#8f8f8f" stroke-width="1"/>
<line x1="500.5" y1="155.7" x2="496.0" y2="155.7" stroke="#8f8f8f" stroke-width="1"/>
<text x="29.6" y="158.2" class="tk" text-anchor="end">-3</text>
<line x1="32.5" y1="178.1" x2="37.0" y2="178.1" stroke="#8f8f8f" stroke-width="1"/>
<line x1="500.5" y1="178.1" x2="496.0" y2="178.1" stroke="#8f8f8f" stroke-width="1"/>
<text x="31.6" y="180.6" class="tk" text-anchor="end">-3.5</text>
<line x1="32.5" y1="200.5" x2="37.0" y2="200.5" stroke="#8f8f8f" stroke-width="1"/>
<line x1="500.5" y1="200.5" x2="496.0" y2="200.5" stroke="#8f8f8f" stroke-width="1"/>
<text x="29.6" y="203.0" class="tk" text-anchor="end">-4</text>
<line x1="32.5" y1="222.9" x2="37.0" y2="222.9" stroke="#8f8f8f" stroke-width="1"/>
<line x1="500.5" y1="222.9" x2="496.0" y2="222.9" stroke="#8f8f8f" stroke-width="1"/>
<text x="31.6" y="225.4" class="tk" text-anchor="end">-4.5</text>
<line x1="33.5" y1="223.5" x2="33.5" y2="219.0" stroke="#8f8f8f" stroke-width="1"/>
<line x1="33.5" y1="8.5" x2="33.5" y2="13.0" stroke="#8f8f8f" stroke-width="1"/>
<text x="34.8" y="231.6" class="tk" text-anchor="middle">0</text>
<line x1="100.3" y1="223.5" x2="100.3" y2="219.0" stroke="#8f8f8f" stroke-width="1"/>
<line x1="100.3" y1="8.5" x2="100.3" y2="13.0" stroke="#8f8f8f" stroke-width="1"/>
<text x="101.6" y="231.6" class="tk" text-anchor="middle">20</text>
<line x1="167.0" y1="223.5" x2="167.0" y2="219.0" stroke="#8f8f8f" stroke-width="1"/>
<line x1="167.0" y1="8.5" x2="167.0" y2="13.0" stroke="#8f8f8f" stroke-width="1"/>
<text x="168.3" y="231.6" class="tk" text-anchor="middle">40</text>
<line x1="233.8" y1="223.5" x2="233.8" y2="219.0" stroke="#8f8f8f" stroke-width="1"/>
<line x1="233.8" y1="8.5" x2="233.8" y2="13.0" stroke="#8f8f8f" stroke-width="1"/>
<text x="235.1" y="231.6" class="tk" text-anchor="middle">60</text>
<line x1="300.5" y1="223.5" x2="300.5" y2="219.0" stroke="#8f8f8f" stroke-width="1"/>
<line x1="300.5" y1="8.5" x2="300.5" y2="13.0" stroke="#8f8f8f" stroke-width="1"/>
<text x="301.8" y="231.6" class="tk" text-anchor="middle">80</text>
<line x1="367.3" y1="223.5" x2="367.3" y2="219.0" stroke="#8f8f8f" stroke-width="1"/>
<line x1="367.3" y1="8.5" x2="367.3" y2="13.0" stroke="#8f8f8f" stroke-width="1"/>
<text x="368.6" y="231.6" class="tk" text-anchor="middle">100</text>
<line x1="434.1" y1="223.5" x2="434.1" y2="219.0" stroke="#8f8f8f" stroke-width="1"/>
<line x1="434.1" y1="8.5" x2="434.1" y2="13.0" stroke="#8f8f8f" stroke-width="1"/>
<text x="435.4" y="231.6" class="tk" text-anchor="middle">120</text>
<text x="258" y="239.6" class="al" textLength="26.2" lengthAdjust="spacingAndGlyphs">H<tspan dy="3.6">0</tspan><tspan dy="-3.6">/mT</tspan></text>
<text transform="translate(13.2,123.8) rotate(-90)" class="al" textLength="16.2" lengthAdjust="spacingAndGlyphs">F/F<tspan dy="2.3">0</tspan></text>
<path d="M33.30,200.30 C34.42,200.10 37.77,199.67 40.00,199.10 C42.23,198.53 44.53,197.87 46.70,196.90 C48.87,195.93 50.78,194.88 53.00,193.30 C55.22,191.72 57.52,189.63 60.00,187.40 C62.48,185.17 65.28,182.85 67.90,179.90 C70.52,176.95 73.08,173.30 75.70,169.70 C78.32,166.10 81.47,161.58 83.60,158.30 C85.73,155.02 86.75,153.05 88.50,150.00 C90.25,146.95 92.18,143.75 94.10,140.00 C96.02,136.25 98.02,131.67 100.00,127.50 C101.98,123.33 104.08,118.75 106.00,115.00 C107.92,111.25 109.83,108.25 111.50,105.00 C113.17,101.75 114.42,98.92 116.00,95.50 C117.58,92.08 119.17,88.67 121.00,84.50 C122.83,80.33 125.25,74.58 127.00,70.50 C128.75,66.42 130.02,63.63 131.50,60.00 C132.98,56.37 135.17,50.58 135.90,48.70 L141.60,76.50 C143.00,75.78 145.27,74.62 150.00,72.20 C154.73,69.78 162.50,66.17 170.00,62.00 C177.50,57.83 189.17,50.53 195.00,47.20 C200.83,43.87 201.67,43.70 205.00,42.00 C208.33,40.30 211.67,38.42 215.00,37.00 C218.33,35.58 221.67,34.40 225.00,33.50 C228.33,32.60 231.67,32.02 235.00,31.60 C238.33,31.18 239.23,31.30 245.00,31.00 C250.77,30.70 262.10,30.15 269.60,29.80 C277.10,29.45 282.10,29.38 290.00,28.90 C297.90,28.42 307.83,27.50 317.00,26.90 C326.17,26.30 331.17,25.97 345.00,25.30 C358.83,24.63 381.67,23.45 400.00,22.90 C418.33,22.35 438.33,22.25 455.00,22.00 C471.67,21.75 492.50,21.50 500.00,21.40" fill="none" stroke="#ff2020" stroke-width="1.30" stroke-linejoin="round"/>
<path d="M33.50,134.00 C34.88,133.95 38.45,134.15 41.80,133.70 C45.15,133.25 49.67,132.35 53.60,131.30 C57.53,130.25 61.47,128.98 65.40,127.40 C69.33,125.82 73.93,123.42 77.20,121.80 C80.47,120.18 82.03,119.42 85.00,117.70 C87.97,115.98 91.67,113.87 95.00,111.50 C98.33,109.13 101.67,106.17 105.00,103.50 C108.33,100.83 111.67,98.33 115.00,95.50 C118.33,92.67 121.67,89.50 125.00,86.50 C128.33,83.50 132.00,80.25 135.00,77.50 C138.00,74.75 140.20,72.83 143.00,70.00 C145.80,67.17 150.33,62.08 151.80,60.50 L157.50,82.80 C163.75,80.17 187.08,70.47 195.00,67.00 C202.92,63.53 201.67,63.83 205.00,62.00 C208.33,60.17 211.67,58.00 215.00,56.00 C218.33,54.00 221.67,52.17 225.00,50.00 C228.33,47.83 231.25,45.30 235.00,43.00 C238.75,40.70 245.42,37.33 247.50,36.20 L251.90,38.20 C253.22,38.12 256.85,38.03 259.80,37.70 C262.75,37.37 264.57,36.85 269.60,36.20 C274.63,35.55 282.10,34.80 290.00,33.80 C297.90,32.80 307.83,31.52 317.00,30.20 C326.17,28.88 331.17,26.98 345.00,25.90 C358.83,24.82 381.67,24.30 400.00,23.70 C418.33,23.10 438.33,22.67 455.00,22.30 C471.67,21.93 492.50,21.63 500.00,21.50" fill="none" stroke="#22ee22" stroke-width="1.30" stroke-linejoin="round"/>
<path d="M33.50,96.00 C35.53,95.90 41.03,95.82 45.70,95.40 C50.37,94.98 56.25,94.42 61.50,93.50 C66.75,92.58 71.62,91.48 77.20,89.90 C82.78,88.32 90.37,85.57 95.00,84.00 C99.63,82.43 101.67,81.83 105.00,80.50 C108.33,79.17 111.67,77.58 115.00,76.00 C118.33,74.42 121.67,72.67 125.00,71.00 C128.33,69.33 131.67,67.63 135.00,66.00 C138.33,64.37 139.50,64.12 145.00,61.20 C150.50,58.28 164.17,50.62 168.00,48.50 L173.20,67.20 C176.83,66.25 189.70,62.87 195.00,61.50 C200.30,60.13 201.67,60.00 205.00,59.00 C208.33,58.00 211.67,56.75 215.00,55.50 C218.33,54.25 221.67,52.83 225.00,51.50 C228.33,50.17 231.67,48.75 235.00,47.50 C238.33,46.25 239.32,46.15 245.00,44.00 C250.68,41.85 265.08,36.17 269.10,34.60 L274.50,41.50 C276.15,41.28 281.82,40.62 284.40,40.20 C286.98,39.78 284.57,39.95 290.00,39.00 C295.43,38.05 307.83,36.30 317.00,34.50 C326.17,32.70 335.47,29.60 345.00,28.20 C354.53,26.80 369.33,26.45 374.20,26.10 L379.60,26.90 C383.00,26.62 387.43,25.95 400.00,25.20 C412.57,24.45 438.33,23.02 455.00,22.40 C471.67,21.78 492.50,21.65 500.00,21.50" fill="none" stroke="#2020ff" stroke-width="1.30" stroke-linejoin="round"/>
<path d="M33.50,76.60 C35.53,76.58 41.03,76.77 45.70,76.50 C50.37,76.23 56.25,75.78 61.50,75.00 C66.75,74.22 71.62,72.72 77.20,71.80 C82.78,70.88 89.53,70.58 95.00,69.50 C100.47,68.42 105.68,66.58 110.00,65.30 C114.32,64.02 117.27,63.02 120.90,61.80 C124.53,60.58 127.78,59.30 131.80,58.00 C135.82,56.70 138.13,56.37 145.00,54.00 C151.87,51.63 168.33,45.50 173.00,43.80 L178.00,57.20 C180.83,56.83 190.50,55.70 195.00,55.00 C199.50,54.30 201.67,53.75 205.00,53.00 C208.33,52.25 211.67,51.33 215.00,50.50 C218.33,49.67 221.67,48.83 225.00,48.00 C228.33,47.17 231.67,46.27 235.00,45.50 C238.33,44.73 241.70,44.28 245.00,43.40 C248.30,42.52 251.52,41.32 254.80,40.20 C258.08,39.08 260.60,37.85 264.70,36.70 C268.80,35.55 276.95,33.87 279.40,33.30 L285.40,40.70 C286.17,40.53 284.73,40.55 290.00,39.70 C295.27,38.85 307.83,37.00 317.00,35.60 C326.17,34.20 335.47,32.88 345.00,31.30 C354.53,29.72 369.33,26.97 374.20,26.10 L380.70,28.00 C383.92,27.77 387.62,27.50 400.00,26.60 C412.38,25.70 438.33,23.45 455.00,22.60 C471.67,21.75 492.50,21.68 500.00,21.50" fill="none" stroke="#111111" stroke-width="1.30" stroke-linejoin="round"/>
<line x1="39.8" y1="16.9" x2="57.7" y2="16.9" stroke="#ff2020" stroke-width="1.6"/>
<text x="60.3" y="19.3" class="lgl">l</text>
<text x="63.3" y="20.5" class="lgs" textLength="5.3" lengthAdjust="spacingAndGlyphs">Up</text>
<text x="69.9" y="19.3" class="lg" textLength="13.6" lengthAdjust="spacingAndGlyphs">=0.2</text>
<text x="86.2" y="19.3" class="lg">,</text>
<text x="91.0" y="19.3" class="lgl">l</text>
<text x="94.0" y="20.5" class="lgs" textLength="8.8" lengthAdjust="spacingAndGlyphs">Down</text>
<text x="103.9" y="19.3" class="lg" textLength="13.6" lengthAdjust="spacingAndGlyphs">=1.0</text>
<line x1="39.8" y1="31.1" x2="57.7" y2="31.1" stroke="#22ee22" stroke-width="1.6"/>
<text x="60.3" y="33.2" class="lgl">l</text>
<text x="63.3" y="34.4" class="lgs" textLength="5.3" lengthAdjust="spacingAndGlyphs">Up</text>
<text x="70.2" y="33.2" class="lg" textLength="13.6" lengthAdjust="spacingAndGlyphs">=0.4</text>
<text x="86.2" y="33.2" class="lg">,</text>
<text x="91.0" y="33.2" class="lgl">l</text>
<text x="94.0" y="34.4" class="lgs" textLength="8.8" lengthAdjust="spacingAndGlyphs">Down</text>
<text x="105.3" y="33.2" class="lg" textLength="13.6" lengthAdjust="spacingAndGlyphs">=1.0</text>
<line x1="39.8" y1="44.9" x2="57.7" y2="44.9" stroke="#2020ff" stroke-width="1.6"/>
<text x="60.3" y="46.8" class="lgl">l</text>
<text x="63.3" y="48.0" class="lgs" textLength="5.3" lengthAdjust="spacingAndGlyphs">Up</text>
<text x="69.9" y="46.8" class="lg" textLength="13.6" lengthAdjust="spacingAndGlyphs">=0.6</text>
<text x="86.2" y="46.8" class="lg">,</text>
<text x="91.0" y="46.8" class="lgl">l</text>
<text x="94.0" y="48.0" class="lgs" textLength="8.8" lengthAdjust="spacingAndGlyphs">Down</text>
<text x="105.7" y="46.8" class="lg" textLength="13.6" lengthAdjust="spacingAndGlyphs">=1.0</text>
<line x1="39.8" y1="59.1" x2="57.7" y2="59.1" stroke="#111111" stroke-width="1.6"/>
<text x="60.3" y="60.2" class="lgl">l</text>
<text x="63.3" y="61.4" class="lgs" textLength="5.3" lengthAdjust="spacingAndGlyphs">Up</text>
<text x="69.9" y="60.2" class="lg" textLength="13.6" lengthAdjust="spacingAndGlyphs">=0.8</text>
<text x="86.2" y="60.2" class="lg">,</text>
<text x="91.0" y="60.2" class="lgl">l</text>
<text x="94.0" y="61.4" class="lgs" textLength="8.8" lengthAdjust="spacingAndGlyphs">Down</text>
<text x="105.7" y="60.2" class="lg" textLength="13.6" lengthAdjust="spacingAndGlyphs">=1.0</text>
<line x1="141.6" y1="52.5" x2="141.6" y2="91.4" stroke="#111" stroke-width="2" stroke-dasharray="2.4,2.2"/>
<line x1="285.2" y1="32.3" x2="285.2" y2="88.5" stroke="#111" stroke-width="2" stroke-dasharray="2.4,2.2"/>
<line x1="382.4" y1="23.4" x2="382.4" y2="89.0" stroke="#111" stroke-width="2" stroke-dasharray="2.4,2.2"/>
<rect x="142.6" y="93.7" width="59.1" height="7.8" fill="#fff" stroke="#8a8a8a" stroke-width="0.9"/>
<text x="145.0" y="100.0" class="hb" style="font-size:7.4px" textLength="55.1" lengthAdjust="spacingAndGlyphs"><tspan font-style="italic">H</tspan><tspan dy="1.6" style="font-size:5.3px">0</tspan><tspan dy="-1.6"> = 32.096 </tspan><tspan font-style="italic">mT</tspan></text>
<rect x="284.5" y="91.2" width="60.8" height="10.6" fill="#fff" stroke="#8a8a8a" stroke-width="0.9"/>
<text x="286.8" y="99.1" class="hb" style="font-size:7.8px" textLength="56.7" lengthAdjust="spacingAndGlyphs"><tspan font-style="italic">H</tspan><tspan dy="1.7" style="font-size:5.6px">0</tspan><tspan dy="-1.7"> = 75.290 </tspan><tspan font-style="italic">mT</tspan></text>
<rect x="383.8" y="91.0" width="62.7" height="8.5" fill="#fff" stroke="#8a8a8a" stroke-width="0.9"/>
<text x="385.6" y="97.7" class="hb" style="font-size:7.4px" textLength="59.7" lengthAdjust="spacingAndGlyphs"><tspan font-style="italic">H</tspan><tspan dy="1.6" style="font-size:5.3px">0</tspan><tspan dy="-1.6"> = 104.087 </tspan><tspan font-style="italic">mT</tspan></text>
<rect x="112.6" y="106.2" width="59.9" height="55.4" fill="#fff" stroke="#ee2a2a" stroke-width="1.3"/>
<rect x="174.5" y="106.2" width="60.3" height="55.1" fill="#fff" stroke="#2456d8" stroke-width="1.3"/>
<rect x="112.2" y="163.2" width="60.3" height="59.3" fill="#fff" stroke="#84d834" stroke-width="1.3"/>
<rect x="174.5" y="163.8" width="60.3" height="58.7" fill="#fff" stroke="#3a3a3a" stroke-width="1.3"/>
<rect x="253.5" y="106.2" width="56.1" height="55.4" fill="#fff" stroke="#ee2a2a" stroke-width="1.3"/>
<rect x="311.9" y="106.2" width="56.2" height="55.1" fill="#fff" stroke="#2456d8" stroke-width="1.3"/>
<rect x="253.2" y="163.2" width="56.4" height="59.3" fill="#fff" stroke="#84d834" stroke-width="1.3"/>
<rect x="311.6" y="164.2" width="56.1" height="58.3" fill="#fff" stroke="#3a3a3a" stroke-width="1.3"/>
<rect x="378.0" y="105.8" width="56.5" height="55.5" fill="#fff" stroke="#ee2a2a" stroke-width="1.3"/>
<rect x="436.5" y="106.2" width="55.5" height="55.1" fill="#fff" stroke="#2456d8" stroke-width="1.3"/>
<rect x="378.0" y="163.2" width="56.5" height="59.3" fill="#fff" stroke="#84d834" stroke-width="1.3"/>
<rect x="436.5" y="163.8" width="55.2" height="58.7" fill="#fff" stroke="#3a3a3a" stroke-width="1.3"/>
<g filter="url(#soft)"><g clip-path="url(#c4)"><rect x="115.7" y="114.8" width="32.3" height="43.0" fill="#94ff6b"/><rect x="0" y="0" width="508" height="550" fill="url(#l1)"/><rect x="0" y="0" width="508" height="550" fill="url(#l2)"/><rect x="0" y="0" width="508" height="550" fill="url(#r3)"/></g></g>
<rect x="150.2" y="115.2" width="3.3" height="43.4" fill="url(#cbar)"/>
<text x="153.8" y="125.9" class="cb" style="font-size:7.0px">1.5</text>
<text x="153.8" y="136.9" class="cb" style="font-size:7.0px">1.0</text>
<text x="153.8" y="148.4" class="cb" style="font-size:7.0px">0.5</text>
<text x="153.8" y="161.2" class="cb" style="font-size:7.0px">0</text>
<g class="psi" style="font-size:7.00px"><rect x="155.03" y="109.10" width="0.95" height="6.30"/><text x="159.9" y="114.2" text-anchor="middle" class="ps">ψ</text><rect x="163.43" y="109.10" width="0.95" height="6.30"/><text x="165.2" y="111.8" style="font-size:4.76px">2</text></g>
<g filter="url(#soft)"><g clip-path="url(#c6)"><rect x="177.3" y="114.8" width="33.0" height="42.7" fill="#ffe500"/><g filter="url(#f5)"><rect x="0" y="0" width="508" height="550" fill="#faff05"/><path d="M189.0,114.0 L212.0,128.5 L212.0,133.0 L205.0,130.0 L195.0,123.0 L189.0,119.0Z" fill="#bdff42"/><path d="M176.0,134.0 L190.0,131.5 L200.0,132.0 L212.0,135.0 L212.0,165.0 L176.0,165.0Z" fill="#ff8a00"/><path d="M176.0,139.5 L186.0,138.0 L195.0,138.5 L203.0,141.0 L206.0,146.0 L200.0,152.0 L176.0,165.0Z" fill="#ff0f00"/><path d="M176.0,148.0 L182.0,146.0 L188.0,148.0 L189.0,153.0 L185.0,160.0 L176.0,160.0Z" fill="#b30000"/></g></g></g>
<rect x="211.3" y="114.9" width="3.1" height="43.7" fill="url(#cbar)"/>
<text x="214.7" y="122.2" class="cb" style="font-size:7.0px">1.2</text>
<text x="214.7" y="135.2" class="cb" style="font-size:7.0px">0.8</text>
<text x="214.7" y="148.4" class="cb" style="font-size:7.0px">0.4</text>
<text x="214.7" y="161.2" class="cb" style="font-size:7.0px">0</text>
<g class="psi" style="font-size:7.00px"><rect x="215.93" y="108.80" width="0.95" height="6.30"/><text x="220.8" y="113.9" text-anchor="middle" class="ps">ψ</text><rect x="224.33" y="108.80" width="0.95" height="6.30"/><text x="226.1" y="111.5" style="font-size:4.76px">2</text></g>
<g filter="url(#soft)"><g clip-path="url(#c8)"><rect x="114.3" y="173.5" width="35.1" height="45.5" fill="#57ffa8"/><g filter="url(#f7)"><rect x="0" y="0" width="508" height="550" fill="#80ff80"/><path d="M128.0,172.0 L150.0,186.0 L150.0,195.0 L140.0,188.0 L128.0,180.0Z" fill="#38ffc7"/><path d="M113.0,195.0 L125.0,193.5 L135.0,193.8 L150.0,196.5 L150.0,225.0 L113.0,225.0Z" fill="#fffa00"/><path d="M113.0,198.0 L125.0,196.5 L133.0,197.0 L140.0,199.5 L145.0,203.0 L140.0,210.0 L113.0,225.0Z" fill="#ff8000"/><path d="M113.0,200.5 L122.0,199.5 L130.0,200.5 L136.0,205.0 L134.0,210.0 L125.0,216.0 L113.0,225.0Z" fill="#ff0500"/><path d="M113.0,208.0 L119.0,207.0 L124.0,210.0 L124.0,216.0 L118.0,222.0 L113.0,222.0Z" fill="#a80000"/></g></g></g>
<rect x="150.9" y="173.8" width="3.0" height="45.9" fill="url(#cbar)"/>
<text x="154.2" y="182.2" class="cb" style="font-size:7.0px">1.5</text>
<text x="154.2" y="194.0" class="cb" style="font-size:7.0px">1.0</text>
<text x="154.2" y="207.0" class="cb" style="font-size:7.0px">0.5</text>
<text x="154.2" y="221.5" class="cb" style="font-size:7.0px">0</text>
<g class="psi" style="font-size:7.00px"><rect x="155.43" y="167.70" width="0.95" height="6.30"/><text x="160.3" y="172.8" text-anchor="middle" class="ps">ψ</text><rect x="163.83" y="167.70" width="0.95" height="6.30"/><text x="165.6" y="170.4" style="font-size:4.76px">2</text></g>
<g filter="url(#soft)"><g clip-path="url(#c10)"><rect x="176.6" y="174.2" width="33.0" height="43.4" fill="#ff6100"/><g filter="url(#f9)"><rect x="0" y="0" width="508" height="550" fill="#ff4c00"/><path d="M170.0,178.0 L181.0,180.0 L181.0,205.0 L170.0,210.0Z" fill="#ff8a00"/><path d="M190.0,176.0 L205.0,185.0 L200.0,190.0 L190.0,184.0Z" fill="#ff8000"/><path d="M186.0,182.0 L192.0,184.0 L196.0,195.0 L194.0,205.0 L188.0,212.0 L181.0,214.0 L182.0,205.0 L186.0,195.0Z" fill="#ff0f00"/><path d="M172.0,207.0 L180.0,206.0 L185.0,210.0 L184.0,218.0 L172.0,220.0Z" fill="#bd0000"/></g></g></g>
<rect x="211.0" y="174.8" width="3.0" height="43.2" fill="url(#cbar)"/>
<text x="214.3" y="181.6" class="cb" style="font-size:7.0px">1.0</text>
<text x="214.3" y="196.3" class="cb" style="font-size:7.0px">0.6</text>
<text x="214.3" y="212.2" class="cb" style="font-size:7.0px">0.2</text>
<text x="214.3" y="220.8" class="cb" style="font-size:7.0px">0</text>
<g class="psi" style="font-size:7.00px"><rect x="215.53" y="168.70" width="0.95" height="6.30"/><text x="220.4" y="173.8" text-anchor="middle" class="ps">ψ</text><rect x="223.93" y="168.70" width="0.95" height="6.30"/><text x="225.7" y="171.4" style="font-size:4.76px">2</text></g>
<g filter="url(#soft)"><g clip-path="url(#c12)"><rect x="257.3" y="116.2" width="32.3" height="41.3" fill="#ffdb00"/><g filter="url(#f11)"><rect x="0" y="0" width="508" height="550" fill="#ff8a00"/><path d="M255.0,125.5 L270.0,122.5 L292.0,131.5 L292.0,165.0 L255.0,165.0Z" fill="#ffe500"/><path d="M255.0,131.0 L263.0,129.5 L268.0,127.5 L272.0,125.5 L277.0,127.5 L283.0,131.0 L292.0,135.0 L292.0,165.0 L255.0,165.0Z" fill="#94ff6b"/><path d="M255.0,136.0 L262.0,136.5 L265.5,134.0 L268.5,130.0 L272.0,127.5 L276.0,129.5 L280.0,134.0 L284.0,138.0 L292.0,140.5 L292.0,165.0 L255.0,165.0Z" fill="#00faff"/><path d="M255.0,139.5 L262.0,140.0 L265.5,137.0 L268.0,132.0 L272.0,128.8 L276.0,131.0 L279.5,136.0 L283.0,141.0 L292.0,143.0 L292.0,165.0 L255.0,165.0Z" fill="#001aff"/><path d="M263.0,158.0 L264.5,145.0 L267.0,136.0 L272.2,130.0 L277.0,133.0 L280.5,141.0 L283.0,150.0 L275.0,157.0Z" fill="#0000d1"/><path d="M267.5,150.0 L268.0,141.0 L270.0,134.5 L272.2,132.0 L275.0,134.5 L278.0,142.0 L278.0,148.0 L272.0,153.0Z" fill="#00009e"/></g></g></g>
<rect x="291.1" y="116.3" width="2.8" height="42.3" fill="url(#cbar)"/>
<text x="294.2" y="119.4" class="cb" style="font-size:7.0px">1.0</text>
<text x="294.2" y="135.7" class="cb" style="font-size:7.0px">0.6</text>
<text x="294.2" y="152.5" class="cb" style="font-size:7.0px">0.2</text>
<text x="294.2" y="161.5" class="cb" style="font-size:7.0px">0</text>
<g class="psi" style="font-size:6.44px"><rect x="293.93" y="107.80" width="0.95" height="5.80"/><text x="298.7" y="112.5" text-anchor="middle" class="ps">ψ</text><rect x="302.03" y="107.80" width="0.95" height="5.80"/><text x="303.8" y="110.3" style="font-size:4.38px">2</text></g>
<g filter="url(#soft)"><g clip-path="url(#c16)"><rect x="313.0" y="116.9" width="30.2" height="40.6" fill="#ffe500"/><rect x="0" y="0" width="508" height="550" fill="url(#r13)"/><rect x="0" y="0" width="508" height="550" fill="url(#r14)"/><rect x="0" y="0" width="508" height="550" fill="url(#r15)"/></g></g>
<rect x="345.9" y="117.2" width="2.9" height="41.4" fill="url(#cbar)"/>
<text x="349.1" y="120.1" class="cb" style="font-size:7.0px">1.0</text>
<text x="349.1" y="136.0" class="cb" style="font-size:7.0px">0.6</text>
<text x="349.1" y="153.2" class="cb" style="font-size:7.0px">0.2</text>
<text x="349.1" y="161.5" class="cb" style="font-size:7.0px">0</text>
<g class="psi" style="font-size:6.44px"><rect x="348.83" y="108.70" width="0.95" height="5.80"/><text x="353.5" y="113.4" text-anchor="middle" class="ps">ψ</text><rect x="356.93" y="108.70" width="0.95" height="5.80"/><text x="358.7" y="111.2" style="font-size:4.38px">2</text></g>
<g filter="url(#soft)"><g clip-path="url(#c19)"><rect x="258.0" y="174.2" width="32.3" height="42.0" fill="#ff7500"/><rect x="0" y="0" width="508" height="550" fill="url(#r17)"/><rect x="0" y="0" width="508" height="550" fill="url(#r18)"/></g></g>
<rect x="291.1" y="175.2" width="2.8" height="42.3" fill="url(#cbar)"/>
<text x="294.2" y="178.1" class="cb" style="font-size:7.0px">1.0</text>
<text x="294.2" y="194.6" class="cb" style="font-size:7.0px">0.6</text>
<text x="294.2" y="211.9" class="cb" style="font-size:7.0px">0.2</text>
<text x="294.2" y="220.8" class="cb" style="font-size:7.0px">0</text>
<g class="psi" style="font-size:6.44px"><rect x="293.93" y="166.70" width="0.95" height="5.80"/><text x="298.7" y="171.4" text-anchor="middle" class="ps">ψ</text><rect x="302.03" y="166.70" width="0.95" height="5.80"/><text x="303.8" y="169.2" style="font-size:4.38px">2</text></g>
<g filter="url(#soft)"><g clip-path="url(#c22)"><rect x="311.6" y="174.9" width="33.0" height="42.7" fill="#ff7500"/><rect x="0" y="0" width="508" height="550" fill="url(#r20)"/><rect x="0" y="0" width="508" height="550" fill="url(#r21)"/></g></g>
<rect x="345.7" y="175.9" width="3.1" height="43.4" fill="url(#cbar)"/>
<text x="349.1" y="179.2" class="cb" style="font-size:7.0px">1.0</text>
<text x="349.1" y="196.3" class="cb" style="font-size:7.0px">0.6</text>
<text x="349.1" y="213.2" class="cb" style="font-size:7.0px">0.2</text>
<text x="349.1" y="222.2" class="cb" style="font-size:7.0px">0</text>
<g class="psi" style="font-size:6.44px"><rect x="348.83" y="167.40" width="0.95" height="5.80"/><text x="353.6" y="172.1" text-anchor="middle" class="ps">ψ</text><rect x="356.93" y="167.40" width="0.95" height="5.80"/><text x="358.7" y="169.9" style="font-size:4.38px">2</text></g>
<g filter="url(#soft)"><g clip-path="url(#c23)"><rect x="382.3" y="113.5" width="31.6" height="41.9" fill="#57ffa8"/><g filter="url(#f7)"><rect x="0" y="0" width="508" height="550" fill="#57ffa8"/><path d="M377.4,122.3 L394.3,118.6 L417.4,127.8 L417.4,162.0 L377.4,162.0Z" fill="#00f0ff"/><path d="M377.4,127.5 L394.3,123.2 L417.4,133.5 L417.4,162.0 L377.4,162.0Z" fill="#001aff"/><path d="M377.4,162.0 L377.4,137.0 L390.4,129.5 L396.0,126.6 L402.4,129.5 L409.4,137.0 L413.4,146.0 L403.4,162.0Z" fill="#0000d1"/><path d="M384.4,153.0 L385.4,141.0 L390.4,133.0 L396.0,129.3 L401.4,132.0 L406.4,139.0 L407.4,147.0 L399.4,153.0Z" fill="#00009e"/></g></g></g>
<rect x="415.0" y="116.3" width="2.7" height="41.6" fill="url(#cbar)"/>
<text x="418.0" y="119.0" class="cb" style="font-size:7.0px">1.0</text>
<text x="418.0" y="135.3" class="cb" style="font-size:7.0px">0.6</text>
<text x="418.0" y="152.1" class="cb" style="font-size:7.0px">0.2</text>
<text x="418.0" y="161.2" class="cb" style="font-size:7.0px">0</text>
<g class="psi" style="font-size:6.44px"><rect x="417.73" y="107.80" width="0.95" height="5.80"/><text x="422.4" y="112.5" text-anchor="middle" class="ps">ψ</text><rect x="425.83" y="107.80" width="0.95" height="5.80"/><text x="427.6" y="110.3" style="font-size:4.38px">2</text></g>
<g filter="url(#soft)"><g clip-path="url(#c24)"><rect x="437.3" y="113.5" width="31.6" height="41.2" fill="#57ffa8"/><g filter="url(#f7)"><rect x="0" y="0" width="508" height="550" fill="#57ffa8"/><path d="M433.1,122.3 L450.0,118.6 L473.1,127.8 L473.1,162.0 L433.1,162.0Z" fill="#00f0ff"/><path d="M433.1,127.5 L450.0,123.2 L473.1,133.5 L473.1,162.0 L433.1,162.0Z" fill="#001aff"/><path d="M433.1,162.0 L433.1,137.0 L446.1,129.5 L451.7,126.6 L458.1,129.5 L465.1,137.0 L469.1,146.0 L459.1,162.0Z" fill="#0000d1"/><path d="M440.1,153.0 L441.1,141.0 L446.1,133.0 L451.7,129.3 L457.1,132.0 L462.1,139.0 L463.1,147.0 L455.1,153.0Z" fill="#00009e"/></g></g></g>
<rect x="470.0" y="116.8" width="2.7" height="41.8" fill="url(#cbar)"/>
<text x="473.0" y="120.1" class="cb" style="font-size:7.0px">1.0</text>
<text x="473.0" y="136.0" class="cb" style="font-size:7.0px">0.6</text>
<text x="473.0" y="152.5" class="cb" style="font-size:7.0px">0.2</text>
<text x="473.0" y="161.5" class="cb" style="font-size:7.0px">0</text>
<g class="psi" style="font-size:6.44px"><rect x="472.73" y="108.30" width="0.95" height="5.80"/><text x="477.4" y="113.0" text-anchor="middle" class="ps">ψ</text><rect x="480.83" y="108.30" width="0.95" height="5.80"/><text x="482.6" y="110.8" style="font-size:4.38px">2</text></g>
<g filter="url(#soft)"><g clip-path="url(#c25)"><rect x="381.6" y="173.5" width="33.7" height="44.1" fill="#4dffb2"/><g filter="url(#f7)"><rect x="0" y="0" width="508" height="550" fill="#4dffb2"/><path d="M378.0,184.5 L394.5,178.3 L410.5,188.0 L410.5,199.0 L398.0,214.0 L378.0,224.0Z" fill="#00f0ff"/><path d="M378.0,198.0 L386.0,188.0 L395.0,183.0 L405.0,188.0 L408.5,196.0 L402.0,208.0 L390.0,216.0 L378.0,224.0Z" fill="#002eff"/><path d="M387.5,189.5 L395.0,185.0 L402.5,188.5 L406.5,196.0 L403.0,204.0 L395.0,209.5 L388.5,207.0Z" fill="#0000d1"/><path d="M390.5,189.0 L396.5,187.0 L401.5,190.5 L404.0,196.0 L401.5,202.0 L394.5,206.0 L390.5,203.0Z" fill="#00009e"/></g></g></g>
<rect x="416.1" y="175.2" width="3.0" height="44.1" fill="url(#cbar)"/>
<text x="419.4" y="178.1" class="cb" style="font-size:7.0px">1.0</text>
<text x="419.4" y="195.3" class="cb" style="font-size:7.0px">0.6</text>
<text x="419.4" y="213.2" class="cb" style="font-size:7.0px">0.2</text>
<text x="419.4" y="222.2" class="cb" style="font-size:7.0px">0</text>
<g class="psi" style="font-size:6.44px"><rect x="419.13" y="166.70" width="0.95" height="5.80"/><text x="423.9" y="171.4" text-anchor="middle" class="ps">ψ</text><rect x="427.23" y="166.70" width="0.95" height="5.80"/><text x="429.0" y="169.2" style="font-size:4.38px">2</text></g>
<g filter="url(#soft)"><g clip-path="url(#c26)"><rect x="438.0" y="174.2" width="33.0" height="43.4" fill="#4dffb2"/><g filter="url(#f7)"><rect x="0" y="0" width="508" height="550" fill="#4dffb2"/><path d="M444.0,185.0 L450.5,181.0 L462.0,188.0 L464.0,196.0 L458.0,206.0 L448.0,211.0 L443.0,208.0Z" fill="#00faff"/><path d="M446.0,187.0 L452.0,183.5 L460.0,188.5 L462.0,196.0 L458.0,203.0 L449.0,207.0 L446.0,202.0Z" fill="#0024ff"/><path d="M447.5,187.0 L452.0,185.0 L458.0,189.0 L460.5,195.5 L457.0,201.0 L450.0,204.0 L447.5,200.0Z" fill="#0000c7"/><path d="M449.0,189.0 L453.0,187.0 L457.0,190.5 L459.0,195.5 L456.0,199.5 L451.0,201.5 L449.0,198.0Z" fill="#00009e"/></g></g></g>
<rect x="471.1" y="175.2" width="3.0" height="43.4" fill="url(#cbar)"/>
<text x="474.4" y="178.1" class="cb" style="font-size:7.0px">1.0</text>
<text x="474.4" y="194.9" class="cb" style="font-size:7.0px">0.6</text>
<text x="474.4" y="212.2" class="cb" style="font-size:7.0px">0.2</text>
<text x="474.4" y="221.5" class="cb" style="font-size:7.0px">0</text>
<g class="psi" style="font-size:6.44px"><rect x="474.13" y="166.70" width="0.95" height="5.80"/><text x="478.9" y="171.4" text-anchor="middle" class="ps">ψ</text><rect x="482.23" y="166.70" width="0.95" height="5.80"/><text x="484.0" y="169.2" style="font-size:4.38px">2</text></g>
<rect x="35.5" y="258.5" width="420" height="87.0" fill="none" stroke="#8a8a8a" stroke-width="1"/>
<text x="38.0" y="274.3" class="pl">a.</text>
<rect x="35.5" y="349.5" width="420" height="86.0" fill="none" stroke="#8a8a8a" stroke-width="1"/>
<text x="38.0" y="367.2" class="pl">b.</text>
<rect x="35.5" y="439.5" width="420" height="86.0" fill="none" stroke="#8a8a8a" stroke-width="1"/>
<text x="38.0" y="453.6" class="pl">c.</text>
<text x="47.0" y="309.0" class="pll">l</text>
<text x="49.8" y="310.0" class="pls" textLength="5.0" lengthAdjust="spacingAndGlyphs">Up</text>
<text x="55.7" y="309.0" class="plt" textLength="14.0" lengthAdjust="spacingAndGlyphs">=1.0</text>
<text x="71.4" y="309.0" class="plt">,</text>
<text x="77.8" y="309.0" class="pll">l</text>
<text x="80.6" y="310.0" class="pls" textLength="8.8" lengthAdjust="spacingAndGlyphs">Down</text>
<text x="90.4" y="309.0" class="plt" textLength="14.0" lengthAdjust="spacingAndGlyphs">=0.6</text>
<text x="47.6" y="390.7" class="pll">l</text>
<text x="51.1" y="391.7" class="pls" textLength="6.4" lengthAdjust="spacingAndGlyphs">Left</text>
<text x="58.3" y="390.7" class="plt" textLength="14.0" lengthAdjust="spacingAndGlyphs">=1.0</text>
<text x="74.0" y="390.7" class="plt">,</text>
<text x="78.9" y="390.7" class="pll">l</text>
<text x="81.7" y="391.7" class="pls" textLength="8.4" lengthAdjust="spacingAndGlyphs">Down</text>
<text x="93.1" y="390.7" class="plt" textLength="14.0" lengthAdjust="spacingAndGlyphs">=0.6</text>
<text x="47.3" y="469.0" class="pll">l</text>
<text x="50.5" y="470.0" class="pls" textLength="6.4" lengthAdjust="spacingAndGlyphs">Left</text>
<text x="57.6" y="469.0" class="plt" textLength="14.0" lengthAdjust="spacingAndGlyphs">=0.6</text>
<text x="73.1" y="469.0" class="plt">,</text>
<text x="77.8" y="469.0" class="pll">l</text>
<text x="81.0" y="470.0" class="pls" textLength="7.8" lengthAdjust="spacingAndGlyphs">Down</text>
<text x="92.3" y="469.0" class="plt" textLength="14.0" lengthAdjust="spacingAndGlyphs">=1.0</text>
<g filter="url(#soft)"><g clip-path="url(#c30)"><rect x="115.9" y="281.2" width="40.6" height="53.7" fill="#80ff80"/><rect x="0" y="0" width="508" height="550" fill="url(#l27)"/><rect x="0" y="0" width="508" height="550" fill="url(#r28)"/><rect x="0" y="0" width="508" height="550" fill="url(#r29)"/></g></g>
<rect x="159.6" y="282.2" width="3.2" height="54.5" fill="url(#cbar)"/>
<text x="163.1" y="288.8" class="cb" style="font-size:7.6px">1.5</text>
<text x="163.1" y="307.4" class="cb" style="font-size:7.6px">1.0</text>
<text x="163.1" y="324.6" class="cb" style="font-size:7.6px">0.5</text>
<text x="163.1" y="339.7" class="cb" style="font-size:7.6px">0</text>
<g class="psi" style="font-size:10.00px"><rect x="163.13" y="269.60" width="0.95" height="9.00"/><text x="169.3" y="276.9" text-anchor="middle" class="ps">ψ</text><rect x="174.23" y="269.60" width="0.95" height="9.00"/><text x="176.0" y="273.7" style="font-size:6.80px">2</text></g>
<g filter="url(#soft)"><g clip-path="url(#c33)"><rect x="202.1" y="278.5" width="40.6" height="53.6" fill="#80ff80"/><rect x="0" y="0" width="508" height="550" fill="url(#l31)"/><rect x="0" y="0" width="508" height="550" fill="url(#r32)"/></g></g>
<rect x="245.1" y="281.5" width="3.5" height="54.5" fill="url(#cbar)"/>
<text x="248.9" y="288.4" class="cb" style="font-size:7.6px">1.5</text>
<text x="248.9" y="306.9" class="cb" style="font-size:7.6px">1.0</text>
<text x="248.9" y="324.4" class="cb" style="font-size:7.6px">0.5</text>
<text x="248.9" y="339.4" class="cb" style="font-size:7.6px">0</text>
<g class="psi" style="font-size:10.00px"><rect x="248.93" y="268.90" width="0.95" height="9.00"/><text x="255.1" y="276.2" text-anchor="middle" class="ps">ψ</text><rect x="260.03" y="268.90" width="0.95" height="9.00"/><text x="261.8" y="273.0" style="font-size:6.80px">2</text></g>
<g filter="url(#soft)"><g clip-path="url(#c35)"><rect x="291.6" y="278.2" width="42.2" height="54.7" fill="#42ffbd"/><rect x="0" y="0" width="508" height="550" fill="url(#r34)"/></g></g>
<rect x="335.1" y="281.5" width="3.9" height="55.2" fill="url(#cbar)"/>
<text x="339.3" y="288.4" class="cb" style="font-size:7.6px">1.5</text>
<text x="339.3" y="306.9" class="cb" style="font-size:7.6px">1.0</text>
<text x="339.3" y="324.4" class="cb" style="font-size:7.6px">0.5</text>
<text x="339.3" y="339.4" class="cb" style="font-size:7.6px">0</text>
<g class="psi" style="font-size:10.00px"><rect x="339.33" y="268.90" width="0.95" height="9.00"/><text x="345.6" y="276.2" text-anchor="middle" class="ps">ψ</text><rect x="350.43" y="268.90" width="0.95" height="9.00"/><text x="352.2" y="273.0" style="font-size:6.80px">2</text></g>
<g filter="url(#soft)"><g clip-path="url(#c38)"><rect x="381.4" y="280.6" width="41.0" height="54.2" fill="#001aff"/><rect x="0" y="0" width="508" height="550" fill="url(#r36)"/><rect x="0" y="0" width="508" height="550" fill="url(#r37)"/></g></g>
<rect x="424.0" y="282.5" width="4.1" height="54.9" fill="url(#cbar)"/>
<text x="428.4" y="289.4" class="cb" style="font-size:7.6px">1.5</text>
<text x="428.4" y="307.9" class="cb" style="font-size:7.6px">1.0</text>
<text x="428.4" y="325.4" class="cb" style="font-size:7.6px">0.5</text>
<text x="428.4" y="340.4" class="cb" style="font-size:7.6px">0</text>
<g class="psi" style="font-size:10.00px"><rect x="428.43" y="269.90" width="0.95" height="9.00"/><text x="434.7" y="277.2" text-anchor="middle" class="ps">ψ</text><rect x="439.53" y="269.90" width="0.95" height="9.00"/><text x="441.3" y="274.0" style="font-size:6.80px">2</text></g>
<g filter="url(#soft)"><g clip-path="url(#c39)"><rect x="113.7" y="362.4" width="44.5" height="57.1" fill="#fa0000"/><g filter="url(#f5)"><rect x="0" y="0" width="508" height="550" fill="#bdff42"/><path d="M105.0,360.0 L142.0,360.0 L144.0,375.0 L146.0,390.0 L144.5,405.0 L140.5,425.0 L105.0,425.0Z" fill="#faff05"/><path d="M105.0,360.0 L138.0,360.0 L140.0,375.0 L142.0,390.0 L141.0,405.0 L137.0,425.0 L105.0,425.0Z" fill="#ff6b00"/><path d="M105.0,360.0 L135.0,360.0 L137.0,375.0 L138.5,390.0 L137.5,405.0 L134.0,425.0 L105.0,425.0Z" fill="#fa0000"/><path d="M105.0,360.0 L131.0,360.0 L132.0,375.0 L133.5,390.0 L132.5,405.0 L129.0,425.0 L105.0,425.0Z" fill="#d10000"/><path d="M105.0,360.0 L121.0,360.0 L122.0,380.0 L121.0,400.0 L125.0,425.0 L105.0,425.0Z" fill="#b30000"/><path d="M105.0,410.0 L118.0,408.0 L124.0,415.0 L122.0,425.0 L105.0,425.0Z" fill="#940000"/></g></g></g>
<rect x="160.1" y="362.6" width="3.9" height="59.1" fill="url(#cbar)"/>
<text x="164.3" y="369.7" class="cb" style="font-size:7.6px">1.2</text>
<text x="164.3" y="390.5" class="cb" style="font-size:7.6px">0.8</text>
<text x="164.3" y="408.3" class="cb" style="font-size:7.6px">0.4</text>
<text x="164.3" y="424.8" class="cb" style="font-size:7.6px">0</text>
<g class="psi" style="font-size:10.00px"><rect x="164.33" y="350.00" width="0.95" height="9.00"/><text x="170.6" y="357.3" text-anchor="middle" class="ps">ψ</text><rect x="175.43" y="350.00" width="0.95" height="9.00"/><text x="177.2" y="354.1" style="font-size:6.80px">2</text></g>
<g filter="url(#soft)"><g clip-path="url(#c43)"><rect x="200.0" y="367.1" width="44.5" height="57.1" fill="#ff0f00"/><rect x="0" y="0" width="508" height="550" fill="url(#l40)"/><rect x="0" y="0" width="508" height="550" fill="url(#r41)"/><rect x="0" y="0" width="508" height="550" fill="url(#r42)"/></g></g>
<rect x="245.1" y="368.1" width="3.9" height="57.5" fill="url(#cbar)"/>
<text x="249.3" y="374.4" class="cb" style="font-size:7.6px">1.2</text>
<text x="249.3" y="395.7" class="cb" style="font-size:7.6px">0.8</text>
<text x="249.3" y="413.0" class="cb" style="font-size:7.6px">0.4</text>
<text x="249.3" y="428.8" class="cb" style="font-size:7.6px">0</text>
<g class="psi" style="font-size:10.00px"><rect x="249.33" y="355.50" width="0.95" height="9.00"/><text x="255.6" y="362.8" text-anchor="middle" class="ps">ψ</text><rect x="260.43" y="355.50" width="0.95" height="9.00"/><text x="262.2" y="359.6" style="font-size:6.80px">2</text></g>
<g filter="url(#soft)"><g clip-path="url(#c48)"><rect x="291.6" y="361.6" width="43.7" height="57.9" fill="#ffe500"/><rect x="0" y="0" width="508" height="550" fill="url(#r44)"/><rect x="0" y="0" width="508" height="550" fill="url(#r45)"/><rect x="0" y="0" width="508" height="550" fill="url(#r46)"/><rect x="0" y="0" width="508" height="550" fill="url(#r47)"/></g></g>
<rect x="337.0" y="365.7" width="4.4" height="58.3" fill="url(#cbar)"/>
<text x="341.7" y="372.6" class="cb" style="font-size:7.6px">1.2</text>
<text x="341.7" y="394.1" class="cb" style="font-size:7.6px">0.8</text>
<text x="341.7" y="411.9" class="cb" style="font-size:7.6px">0.4</text>
<text x="341.7" y="428.0" class="cb" style="font-size:7.6px">0</text>
<g class="psi" style="font-size:10.00px"><rect x="341.73" y="353.10" width="0.95" height="9.00"/><text x="347.9" y="360.4" text-anchor="middle" class="ps">ψ</text><rect x="352.83" y="353.10" width="0.95" height="9.00"/><text x="354.6" y="357.2" style="font-size:6.80px">2</text></g>
<g filter="url(#soft)"><g clip-path="url(#c51)"><rect x="383.2" y="365.3" width="41.8" height="56.5" fill="#000fff"/><rect x="0" y="0" width="508" height="550" fill="url(#l49)"/><rect x="0" y="0" width="508" height="550" fill="url(#r50)"/></g></g>
<rect x="427.0" y="367.7" width="4.1" height="57.0" fill="url(#cbar)"/>
<text x="431.4" y="374.0" class="cb" style="font-size:7.6px">1.0</text>
<text x="431.4" y="387.8" class="cb" style="font-size:7.6px">0.8</text>
<text x="431.4" y="405.9" class="cb" style="font-size:7.6px">0.4</text>
<text x="431.4" y="426.2" class="cb" style="font-size:7.6px">0</text>
<g class="psi" style="font-size:10.00px"><rect x="431.43" y="355.10" width="0.95" height="9.00"/><text x="437.7" y="362.4" text-anchor="middle" class="ps">ψ</text><rect x="442.53" y="355.10" width="0.95" height="9.00"/><text x="444.3" y="359.2" style="font-size:6.80px">2</text></g>
<g filter="url(#soft)"><g clip-path="url(#c55)"><rect x="115.3" y="452.4" width="43.7" height="58.7" fill="#80ff80"/><rect x="0" y="0" width="508" height="550" fill="url(#l52)"/><rect x="0" y="0" width="508" height="550" fill="url(#r53)"/><rect x="0" y="0" width="508" height="550" fill="url(#r54)"/></g></g>
<rect x="160.7" y="454.2" width="4.1" height="59.5" fill="url(#cbar)"/>
<text x="165.1" y="461.0" class="cb" style="font-size:7.6px">1.5</text>
<text x="165.1" y="474.7" class="cb" style="font-size:7.6px">0.8</text>
<text x="165.1" y="493.6" class="cb" style="font-size:7.6px">1.0</text>
<text x="165.1" y="514.8" class="cb" style="font-size:7.6px">0</text>
<g class="psi" style="font-size:10.00px"><rect x="165.13" y="441.60" width="0.95" height="9.00"/><text x="171.3" y="448.9" text-anchor="middle" class="ps">ψ</text><rect x="176.23" y="441.60" width="0.95" height="9.00"/><text x="178.0" y="445.7" style="font-size:6.80px">2</text></g>
<g filter="url(#soft)"><g clip-path="url(#c58)"><rect x="199.2" y="455.5" width="45.3" height="58.7" fill="#80ff80"/><rect x="0" y="0" width="508" height="550" fill="url(#r56)"/><rect x="0" y="0" width="508" height="550" fill="url(#r57)"/></g></g>
<rect x="246.4" y="456.5" width="4.2" height="59.1" fill="url(#cbar)"/>
<text x="250.9" y="462.9" class="cb" style="font-size:7.6px">1.5</text>
<text x="250.9" y="476.7" class="cb" style="font-size:7.6px">0.8</text>
<text x="250.9" y="495.9" class="cb" style="font-size:7.6px">1.0</text>
<text x="250.9" y="517.7" class="cb" style="font-size:7.6px">0</text>
<g class="psi" style="font-size:10.00px"><rect x="250.93" y="443.90" width="0.95" height="9.00"/><text x="257.1" y="451.2" text-anchor="middle" class="ps">ψ</text><rect x="262.03" y="443.90" width="0.95" height="9.00"/><text x="263.8" y="448.0" style="font-size:6.80px">2</text></g>
<g filter="url(#soft)"><g clip-path="url(#c60)"><rect x="288.4" y="453.2" width="46.1" height="61.8" fill="#1affe5"/><rect x="0" y="0" width="508" height="550" fill="url(#r59)"/></g></g>
<rect x="335.4" y="455.7" width="4.4" height="61.5" fill="url(#cbar)"/>
<text x="340.1" y="462.9" class="cb" style="font-size:7.6px">1.5</text>
<text x="340.1" y="477.0" class="cb" style="font-size:7.6px">0.8</text>
<text x="340.1" y="496.7" class="cb" style="font-size:7.6px">1.0</text>
<text x="340.1" y="518.8" class="cb" style="font-size:7.6px">0</text>
<g class="psi" style="font-size:10.00px"><rect x="340.13" y="443.10" width="0.95" height="9.00"/><text x="346.3" y="450.4" text-anchor="middle" class="ps">ψ</text><rect x="351.23" y="443.10" width="0.95" height="9.00"/><text x="353.0" y="447.2" style="font-size:6.80px">2</text></g>
<g filter="url(#soft)"><g clip-path="url(#c63)"><rect x="383.2" y="450.0" width="44.5" height="58.6" fill="#004dff"/><rect x="0" y="0" width="508" height="550" fill="url(#r61)"/><rect x="0" y="0" width="508" height="550" fill="url(#r62)"/></g></g>
<rect x="429.9" y="453.6" width="4.2" height="59.4" fill="url(#cbar)"/>
<text x="434.4" y="460.1" class="cb" style="font-size:7.6px">1.5</text>
<text x="434.4" y="473.7" class="cb" style="font-size:7.6px">0.8</text>
<text x="434.4" y="493.2" class="cb" style="font-size:7.6px">1.0</text>
<text x="434.4" y="513.9" class="cb" style="font-size:7.6px">0</text>
<g class="psi" style="font-size:10.00px"><rect x="434.43" y="441.00" width="0.95" height="9.00"/><text x="440.6" y="448.3" text-anchor="middle" class="ps">ψ</text><rect x="445.53" y="441.00" width="0.95" height="9.00"/><text x="447.3" y="445.1" style="font-size:6.80px">2</text></g>
<rect x="115.2" y="533.4" width="59.0" height="8.2" fill="#fff" stroke="#8a8a8a" stroke-width="0.9"/>
<text x="118.5" y="540.0" class="hb" style="font-size:7.7px" textLength="53.5" lengthAdjust="spacingAndGlyphs"><tspan font-style="italic">H</tspan><tspan dy="1.7" style="font-size:5.5px">0</tspan><tspan dy="-1.7"> = 32.096 </tspan><tspan font-style="italic">mT</tspan></text>
<rect x="200.2" y="530.5" width="59.1" height="11.8" fill="#fff" stroke="#8a8a8a" stroke-width="0.9"/>
<text x="202.6" y="539.0" class="hb" style="font-size:7.9px" textLength="55.1" lengthAdjust="spacingAndGlyphs"><tspan font-style="italic">H</tspan><tspan dy="1.7" style="font-size:5.7px">0</tspan><tspan dy="-1.7"> = 46.49 </tspan><tspan font-style="italic">mT</tspan></text>
<rect x="290.7" y="531.0" width="61.0" height="11.6" fill="#fff" stroke="#8a8a8a" stroke-width="0.9"/>
<text x="294.2" y="539.4" class="hb" style="font-size:7.9px" textLength="55.1" lengthAdjust="spacingAndGlyphs"><tspan font-style="italic">H</tspan><tspan dy="1.7" style="font-size:5.7px">0</tspan><tspan dy="-1.7"> = 75.290 </tspan><tspan font-style="italic">mT</tspan></text>
<rect x="382.4" y="529.7" width="65.6" height="10.7" fill="#fff" stroke="#8a8a8a" stroke-width="0.9"/>
<text x="386.0" y="537.6" class="hb" style="font-size:7.8px" textLength="60.2" lengthAdjust="spacingAndGlyphs"><tspan font-style="italic">H</tspan><tspan dy="1.7" style="font-size:5.6px">0</tspan><tspan dy="-1.7"> = 104.087 </tspan><tspan font-style="italic">mT</tspan></text></svg></body></html>
